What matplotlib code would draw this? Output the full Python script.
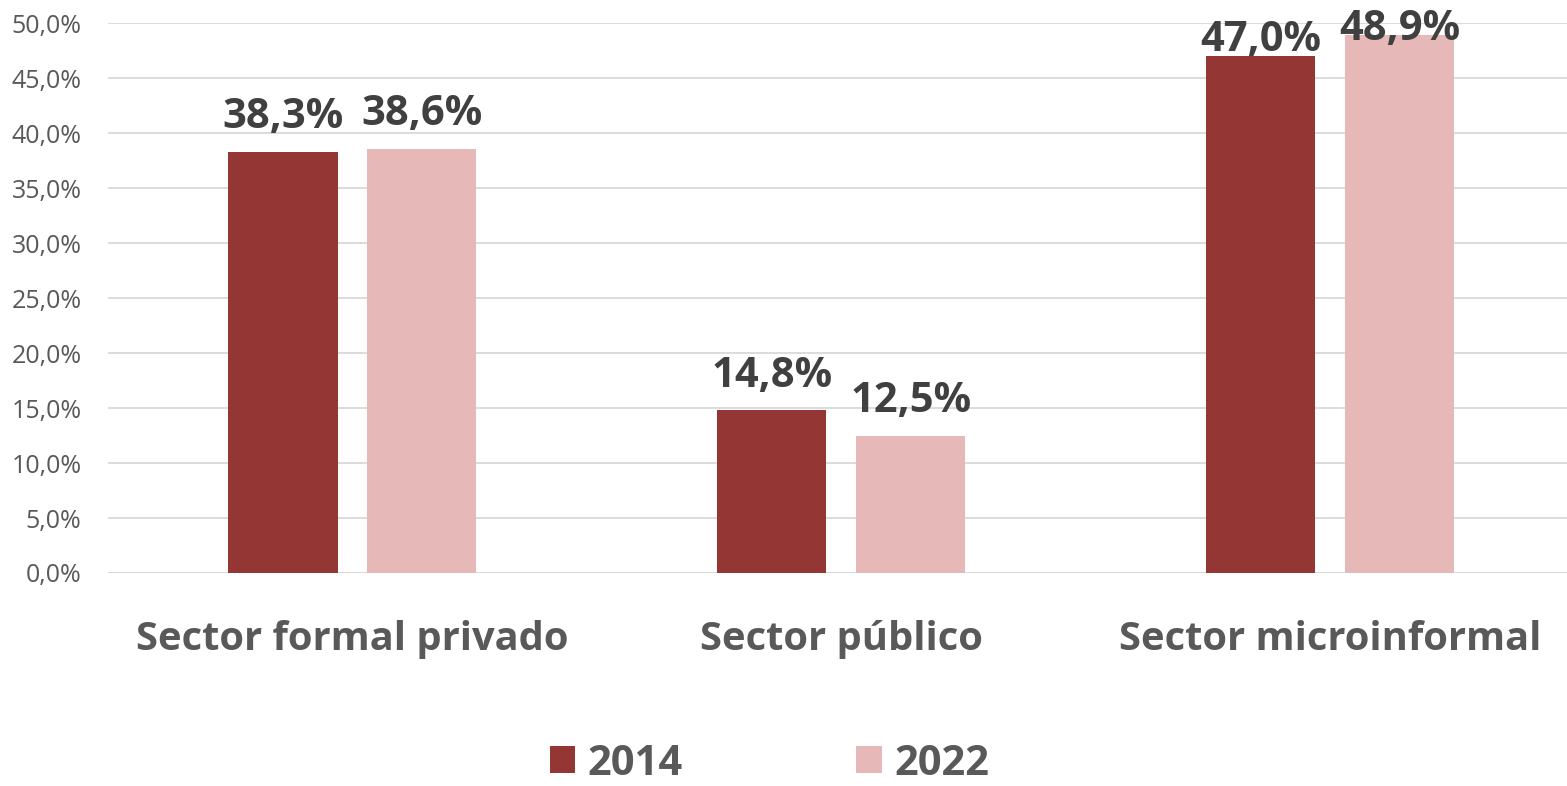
import numpy as np
import matplotlib.pyplot as plt
from matplotlib.ticker import FuncFormatter

categories = ['Sector formal privado', 'Sector público', 'Sector microinformal']
years = ['2014', '2022']
vals_2014 = [38.3, 14.8, 47.0]
vals_2022 = [38.6, 12.5, 48.9]
colors = ['#943634', '#E6B8B7']

plt.rcParams['font.family'] = ['Open Sans', 'DejaVu Sans']

fig = plt.figure(figsize=(15.67, 7.86), dpi=100)
ax = fig.add_axes([0.0689, 0.271, 0.936, 0.6995])

x = np.arange(len(categories))
w = 0.223
off = 0.142
for vals, c, d, lab in [(vals_2014, colors[0], -off, years[0]), (vals_2022, colors[1], off, years[1])]:
    bars = ax.bar(x + d, vals, width=w, color=c, label=lab, zorder=3)
    for b, v in zip(bars, vals):
        # labels near the top slide down to stay inside the plot area
        y = min(v + 2.15, 47.5 + (v - 47.0) * 0.5)
        ax.text(b.get_x() + b.get_width() / 2, y, f'{v:.1f}%'.replace('.', ','),
                ha='center', va='baseline', fontsize=30, fontweight='bold', color='#404040',
                clip_on=False, zorder=4)

ax.set_xlim(-0.5, 2.5)
ax.set_ylim(0, 50)
ax.set_yticks(np.arange(0, 51, 5))
ax.yaxis.set_major_formatter(FuncFormatter(lambda v, p: f'{v:.1f}%'.replace('.', ',')))
ax.grid(axis='y', color='#D9D9D9', linewidth=1.3, zorder=0)
ax.set_xticks(x)
ax.set_xticklabels(categories, fontsize=28.7, fontweight='bold', color='#595959')
ax.tick_params(axis='x', length=0, pad=34)
ax.tick_params(axis='y', length=0, labelsize=18, labelcolor='#595959', pad=19)
for s in ax.spines.values():
    s.set_visible(False)
ax.axhline(0, color='#D9D9D9', linewidth=1.3, zorder=1)

leg = fig.legend(loc='lower center', bbox_to_anchor=(0.491, -0.046), ncol=2, frameon=False,
                 fontsize=30, handlelength=0.62, handleheight=0.62, columnspacing=4.15,
                 handletextpad=0.3)
for t in leg.get_texts():
    t.set_fontweight('bold')
    t.set_color('#595959')

fig.savefig('out.png', dpi=100)
